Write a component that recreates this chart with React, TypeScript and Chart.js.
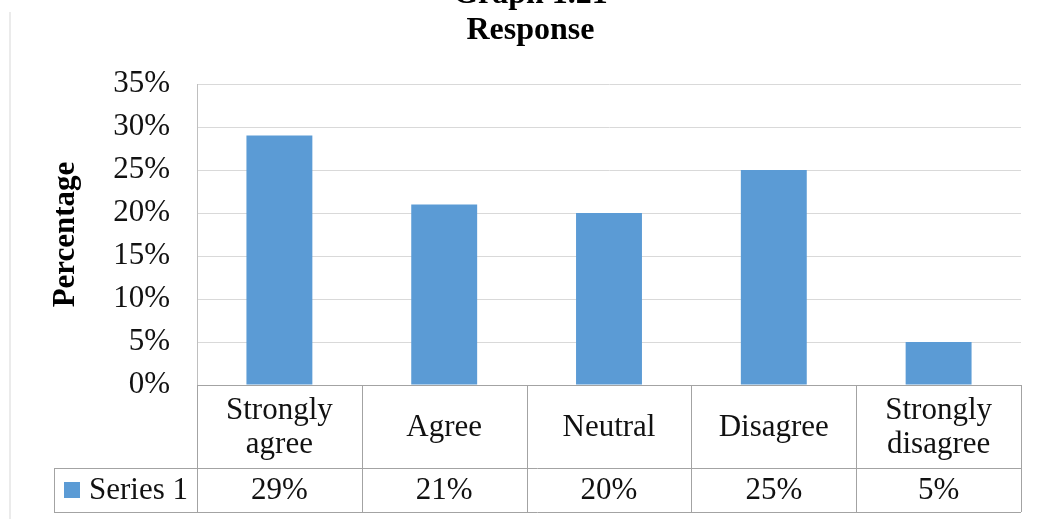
import React, { useEffect, useRef } from 'react';
import { Chart, registerables } from 'chart.js';

Chart.register(...registerables);

// ---- data ----
const categories: string[][] = [
  ['Strongly', 'agree'],
  ['Agree'],
  ['Neutral'],
  ['Disagree'],
  ['Strongly', 'disagree'],
];
const seriesName = 'Series 1';
const values: number[] = [29, 21, 20, 25, 5];
const yMin = 0;
const yMax = 35;
const yStep = 5;
const titleLines: string[] = ['Graph 1.21', 'Response'];
const yAxisTitle = 'Percentage';

const FONT = "'Liberation Serif', 'Times New Roman', serif";
const BAR_COLOR = '#5b9bd5';
const SHIFT = 24; // canvas shifted up so the first title line is cut off
const PAD_LEFT = 40;

const tablePlugin = {
  id: 'dataTable',
  afterDraw(chart: any) {
    const ctx: CanvasRenderingContext2D = chart.ctx;
    const area = chart.chartArea;
    const xs = chart.scales.x;
    const labels: any[] = chart.data.labels;
    const ds = chart.data.datasets[0];
    const n = labels.length;
    const cw = (area.right - area.left) / n;
    const top = area.bottom;
    const mid = top + 83;
    const bottom = top + 127;
    const legendLeft = 54;
    const px = (v: number) => Math.round(v) + 0.5;

    ctx.save();
    ctx.strokeStyle = '#a3a3a3';
    ctx.lineWidth = 1;
    ctx.beginPath();
    ctx.moveTo(area.left, px(top));
    ctx.lineTo(area.right, px(top));
    ctx.moveTo(legendLeft, px(mid));
    ctx.lineTo(area.right, px(mid));
    ctx.moveTo(legendLeft, px(bottom));
    ctx.lineTo(area.right, px(bottom));
    for (let i = 0; i <= n; i++) {
      const x = px(area.left + i * cw);
      ctx.moveTo(x, top);
      ctx.lineTo(x, bottom);
    }
    ctx.moveTo(px(legendLeft), mid);
    ctx.lineTo(px(legendLeft), bottom);
    ctx.stroke();

    ctx.fillStyle = '#111';
    ctx.font = `31px ${FONT}`;
    ctx.textAlign = 'center';
    ctx.textBaseline = 'middle';
    const lh = 34;
    const cy1 = (top + mid) / 2 + 1;
    const cy2 = (mid + bottom) / 2 + 1;
    labels.forEach((lab: any, i: number) => {
      const cx = xs.getPixelForValue(i);
      const lines: string[] = Array.isArray(lab) ? lab : [lab];
      lines.forEach((l, j) => {
        ctx.fillText(l, cx, cy1 + (j - (lines.length - 1) / 2) * lh);
      });
      ctx.fillText(`${ds.data[i]}%`, cx, cy2);
    });

    // legend key
    ctx.fillStyle = ds.backgroundColor;
    ctx.fillRect(64, cy2 - 9, 16, 16);
    ctx.fillStyle = '#111';
    ctx.textAlign = 'left';
    ctx.fillText(ds.label, 89, cy2);
    ctx.restore();
  },
};

export default function App() {
  const ref = useRef<HTMLCanvasElement | null>(null);

  useEffect(() => {
    if (!ref.current) return;
    const chart = new Chart(ref.current, {
      type: 'bar',
      data: {
        labels: categories,
        datasets: [
          {
            label: seriesName,
            data: values,
            backgroundColor: BAR_COLOR,
            borderWidth: 0,
            categoryPercentage: 1,
            barPercentage: 0.4,
          },
        ],
      },
      options: {
        responsive: false,
        animation: false,
        layout: { padding: { left: PAD_LEFT, right: 19, top: 0, bottom: 0 } },
        plugins: {
          legend: { display: false },
          tooltip: { enabled: false },
          title: {
            display: true,
            text: titleLines,
            color: '#000',
            font: { family: FONT, size: 32, weight: 'bold', lineHeight: 1.15 },
            padding: { top: 0, bottom: 34.4 },
          },
        },
        scales: {
          x: {
            type: 'category',
            offset: true,
            ticks: { display: false },
            grid: { display: false },
            border: { display: true, color: '#a3a3a3' },
            afterFit: (scale: any) => {
              scale.height = 134;
            },
          },
          y: {
            min: yMin,
            max: yMax,
            ticks: {
              stepSize: yStep,
              color: '#111',
              padding: 27,
              font: { family: FONT, size: 31 },
              callback: (v: any) => `${v}%`,
            },
            grid: { color: '#d9d9d9', drawTicks: false, lineWidth: 1 },
            border: { display: true, color: '#bfbfbf' },
            title: {
              display: true,
              text: yAxisTitle,
              color: '#000',
              font: { family: FONT, size: 31, weight: 'bold', lineHeight: 1.2 },
              padding: { top: 47 - PAD_LEFT, bottom: 0 },
            },
            afterFit: (scale: any) => {
              scale.width = 197 - PAD_LEFT;
            },
          },
        },
      },
      plugins: [tablePlugin],
    });
    return () => chart.destroy();
  }, []);

  return (
    <div style={{ position: 'fixed', left: 0, top: 0, width: 1040, height: 519, overflow: 'hidden', background: '#fff' }}>
      <div style={{ position: 'absolute', left: 9, top: 12, width: 2, height: 507, background: '#ebebeb' }} />
      <canvas
        ref={ref}
        width={1040}
        height={519 + SHIFT}
        style={{ position: 'absolute', left: 0, top: -SHIFT, width: 1040, height: 519 + SHIFT }}
      />
    </div>
  );
}
